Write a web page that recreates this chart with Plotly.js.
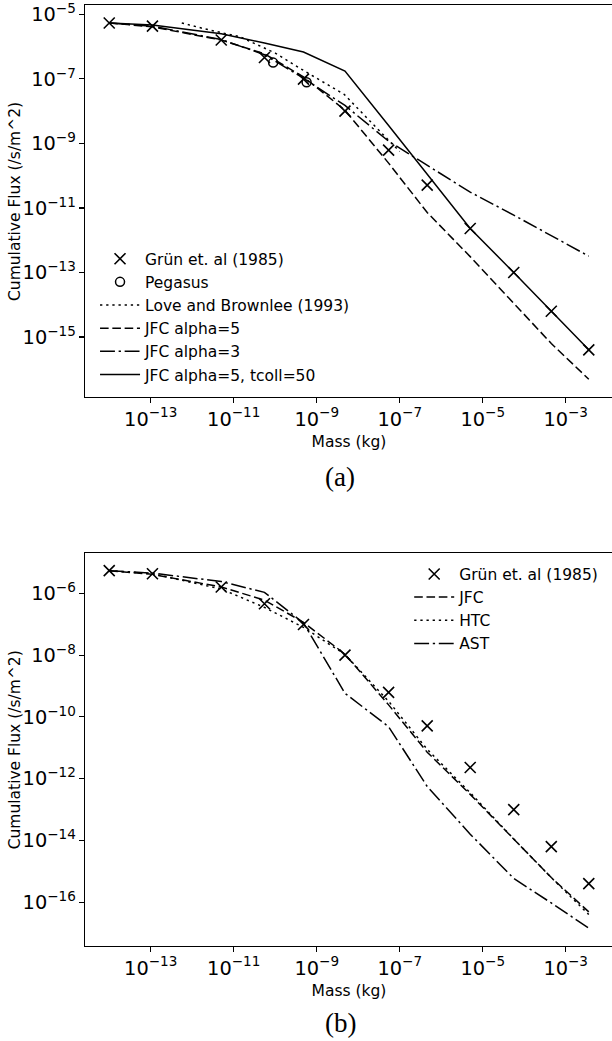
<!DOCTYPE html>
<html>
<head>
<meta charset="utf-8">
<script src="https://cdn.plot.ly/plotly-3.0.1.min.js"></script>
<style>
  html, body { margin: 0; padding: 0; background: #fff; overflow: hidden; }
  #chart { width: 620px; height: 1041px; }
</style>
</head>
<body>
<div id="chart"></div>
<script>
// ---- data (mass in kg, cumulative flux in /s/m^2) ----
const gruenMass = [1.0e-14, 1.1e-13, 5.0e-12, 5.5e-11, 4.8e-10, 4.8e-9, 5.4e-8, 4.6e-7, 5.0e-6, 5.6e-5, 4.5e-4, 3.6e-3];
const gruenFlux = [5.4e-6, 4.3e-6, 1.6e-6, 4.6e-7, 9.8e-8, 1.0e-8, 6.2e-10, 5.1e-11, 2.3e-12, 1.0e-13, 6.3e-15, 4.0e-16];

const pegasusMass = [8.9e-11, 5.7e-10];
const pegasusFlux = [3.2e-7, 7.9e-8];

const loveBrownleeMass = [5.6e-13, 1.9e-12, 1.45e-11, 1.0e-10, 4.9e-10, 4.6e-9, 3.2e-8, 1.0e-7];
const loveBrownleeFlux = [5.4e-6, 3.6e-6, 2.0e-6, 6.3e-7, 1.8e-7, 3.3e-8, 2.5e-9, 5.6e-10];

const modelMass = gruenMass;
const jfcAlpha5Flux = [5.4e-6, 4.1e-6, 1.6e-6, 6.0e-7, 1.15e-7, 1.07e-8, 2.45e-10, 7.2e-12, 3.1e-13, 1.12e-14, 6.3e-16, 4.9e-17];
const jfcAlpha3Flux = [5.4e-6, 4.3e-6, 1.66e-6, 5.6e-7, 1.05e-7, 1.5e-8, 1.17e-9, 2.1e-10, 3.1e-11, 6.0e-12, 1.4e-12, 3.2e-13];
const jfcTcollFlux = [5.4e-6, 4.7e-6, 2.5e-6, 1.3e-6, 6.8e-7, 1.74e-7, 3.6e-9, 1.15e-10, 2.3e-12, 1.0e-13, 6.3e-15, 4.0e-16];

const jfcFlux = jfcAlpha5Flux;
const htcFlux = [5.4e-6, 4.3e-6, 1.38e-6, 3.5e-7, 7.9e-8, 1.05e-8, 3.2e-10, 8.9e-12, 3.5e-13, 1.12e-14, 6.3e-16, 4.0e-17];
const astFlux = [5.4e-6, 4.5e-6, 2.4e-6, 1.07e-6, 1.1e-7, 5.8e-10, 4.8e-11, 5.6e-13, 1.6e-14, 5.9e-16, 9.5e-17, 1.45e-17];

const xTitle = 'Mass (kg)';
const yTitle = 'Cumulative Flux (/s/m^2)';
const captions = ['(a)', '(b)'];

// ---- styles ----
const LW = 1.5;
const DASHED = '8.6px,3.7px';
const DOTTED = '2.3px,3.85px';
const DASHDOT = '14.9px,3.7px,2.3px,3.7px';
const FONT = 'DejaVu Sans, sans-serif';
const FS = 15.5;

function line(x, y, name, dash, xa, ya, leg) {
  return {x: x, y: y, name: name, type: 'scatter', mode: 'lines',
          line: {color: 'black', width: LW, dash: dash},
          xaxis: xa, yaxis: ya, legend: leg};
}
function crosses(xa, ya, leg) {
  return {x: gruenMass, y: gruenFlux, name: 'Grün et. al (1985)', type: 'scatter', mode: 'markers',
          marker: {symbol: 'x-thin-open', size: 11, color: 'black', line: {color: 'black', width: 1.6}},
          xaxis: xa, yaxis: ya, legend: leg};
}

const traces = [
  crosses('x', 'y', 'legend'),
  {x: pegasusMass, y: pegasusFlux, name: 'Pegasus', type: 'scatter', mode: 'markers',
   marker: {symbol: 'circle-open', size: 9, color: 'black', line: {color: 'black', width: 1.5}},
   xaxis: 'x', yaxis: 'y', legend: 'legend'},
  line(loveBrownleeMass, loveBrownleeFlux, 'Love and Brownlee (1993)', DOTTED, 'x', 'y', 'legend'),
  line(modelMass, jfcAlpha5Flux, 'JFC alpha=5', DASHED, 'x', 'y', 'legend'),
  line(modelMass, jfcAlpha3Flux, 'JFC alpha=3', DASHDOT, 'x', 'y', 'legend'),
  line(modelMass, jfcTcollFlux, 'JFC alpha=5, tcoll=50', 'solid', 'x', 'y', 'legend'),

  crosses('x2', 'y2', 'legend2'),
  line(modelMass, jfcFlux, 'JFC', DASHED, 'x2', 'y2', 'legend2'),
  line(modelMass, htcFlux, 'HTC', DOTTED, 'x2', 'y2', 'legend2'),
  line(modelMass, astFlux, 'AST', DASHDOT, 'x2', 'y2', 'legend2')
];

const axBase = {
  type: 'log', showline: true, linecolor: 'black', linewidth: 1.1, mirror: true,
  ticks: 'outside', ticklen: 5, tickwidth: 1.1, tickcolor: 'black',
  showgrid: false, zeroline: false, exponentformat: 'power', dtick: 2,
  tickfont: {family: FONT, size: FS, color: 'black'}
};

const legBase = {xanchor: 'left', yanchor: 'top', bgcolor: 'rgba(0,0,0,0)', borderwidth: 0,
                 font: {family: FONT, size: FS, color: 'black'}, itemwidth: 40, tracegroupgap: 0};

const layout = {
  width: 620, height: 1041,
  margin: {l: 85, r: 7, t: 5, b: 95},
  paper_bgcolor: 'white', plot_bgcolor: 'white',
  font: {family: FONT, size: FS, color: 'black'},
  xaxis: Object.assign({}, axBase, {domain: [0, 1], range: [-14.584, -1.86], tick0: -13, anchor: 'y',
          title: {text: xTitle, font: {size: FS}, standoff: 6}}),
  yaxis: Object.assign({}, axBase, {domain: [0.5834, 1], range: [-16.86, -4.71], tick0: -5, anchor: 'x'}),
  xaxis2: Object.assign({}, axBase, {domain: [0, 1], range: [-14.584, -1.86], tick0: -13, anchor: 'y2',
          title: {text: xTitle, font: {size: FS}, standoff: 6}}),
  yaxis2: Object.assign({}, axBase, {domain: [0, 0.418], range: [-17.415, -4.685], tick0: -6, anchor: 'x2'}),
  legend: Object.assign({}, legBase, {x: 0.019, y: 0.748}),
  legend2: Object.assign({}, legBase, {x: 0.614, y: 0.413}),
  showlegend: true,
  annotations: [
    {text: yTitle, xref: 'paper', yref: 'paper', x: -0.1326, y: 0.7917, xanchor: 'center', yanchor: 'middle',
     textangle: -90, showarrow: false, font: {family: FONT, size: FS, color: 'black'}},
    {text: yTitle, xref: 'paper', yref: 'paper', x: -0.1326, y: 0.209, xanchor: 'center', yanchor: 'middle',
     textangle: -90, showarrow: false, font: {family: FONT, size: FS, color: 'black'}},
    {text: captions[0], xref: 'paper', yref: 'paper', x: 0.483, y: 0.4987, xanchor: 'center', yanchor: 'middle',
     showarrow: false, font: {family: 'Liberation Serif, serif', size: 27, color: 'black'}},
    {text: captions[1], xref: 'paper', yref: 'paper', x: 0.483, y: -0.0821, xanchor: 'center', yanchor: 'middle',
     showarrow: false, font: {family: 'Liberation Serif, serif', size: 27, color: 'black'}}
  ]
};

Plotly.newPlot('chart', traces, layout, {staticPlot: true, displayModeBar: false});
</script>
</body>
</html>
